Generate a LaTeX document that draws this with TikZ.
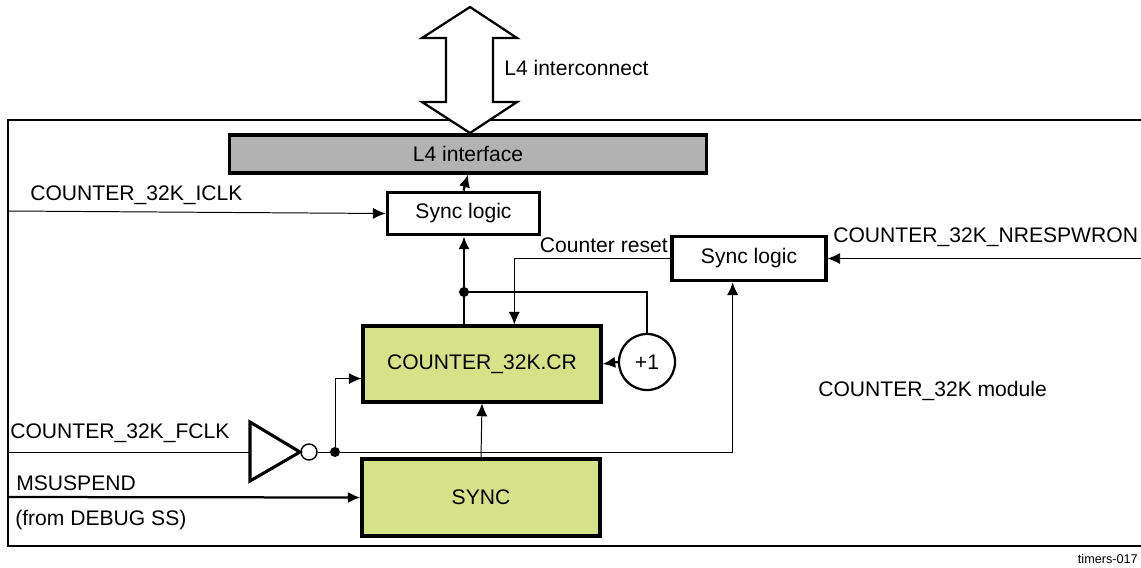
\documentclass[tikz,border=0pt]{standalone}
\usepackage{fontspec}
\setmainfont{Liberation Sans}
\usetikzlibrary{arrows.meta,positioning,calc}
\definecolor{limebox}{RGB}{213,226,135}
\definecolor{graybar}{RGB}{178,178,178}
\tikzset{
  block/.style={
    draw=black,
    line width=2.2pt,
    align=center,
    inner sep=2pt,
    font=\fontsize{15}{18}\selectfont
  },
  lbl/.style={font=\fontsize{15}{18}\selectfont, inner sep=0pt},
  dot/.style={circle, fill=black, inner sep=0pt, minimum size=0.25cm},
  thinline/.style={-{Latex[length=9pt,width=8pt]}, line width=0.7pt},
  thickline/.style={-{Latex[length=9pt,width=8pt]}, line width=1.6pt}
}

\begin{document}
\begin{tikzpicture}[x=0.025cm, y=-0.025cm]
        \clip (0,0) rectangle (1141,567);
        % module frame
        \draw[line width=1.4pt] (1160,120) -- (8,120) -- (8,546) -- (1160,546);
        % L4 interconnect
        \draw[line width=1.6pt, line join=miter, fill=white] (470,7) -- (422,38) -- (446,38) -- (446,102) -- (422,102)
          -- (470,133) -- (517,102) -- (493,102) -- (493,38) -- (517,38) -- cycle;
        \node[lbl, anchor=base west] (l4lbl) at (504,75) {L4 interconnect};
        % blocks
        \node[block, fill=graybar, minimum width=11.9cm, minimum height=0.95cm] (l4) at (468,154) {L4 interface};
        \node[block, fill=white, minimum width=3.82cm, minimum height=1.07cm] (sync1) at (463.5,213.5) {Sync logic};
        \node[block, fill=white, minimum width=3.85cm, minimum height=1.12cm] (sync2) at (749,258.5) {Sync logic};
        \node[block, fill=limebox, minimum width=5.95cm, minimum height=1.9cm] (cr) at (482,364) {COUNTER\_32K.CR};
        \node[block, fill=limebox, minimum width=5.95cm, minimum height=1.925cm] (sync) at (481,497.5) {SYNC};
        \node[circle, draw, line width=1.6pt, minimum size=1.4cm, inner sep=0pt, font=\fontsize{15}{18}\selectfont] (plus) at (647,362) {+1};
        % inverter
        \coordinate (inv) at (250,452);
        \draw[line width=2.2pt, line join=miter] (inv) ++(0,-30) -- ++(50,30) -- ++(-50,29) -- cycle;
        \node[circle, draw, line width=1pt, minimum size=0.4cm, inner sep=0pt] (bub) at (309,452) {};
        \node[dot] (dot1) at (464,292) {};
        \node[dot] (dot2) at (335,452) {};
        % signal ends
        \coordinate (iclk) at (8,211);
        \coordinate (nresp) at (1141,258.5);
        \coordinate (fclk) at (8,452);
        \coordinate (msus) at (8,497);
        % connectors
        \draw[thickline] (sync1.north) -- (l4.south);
        \draw[thinline] (iclk) -- (sync1.west);
        \draw[thickline] (dot1 |- cr.north) -- (dot1 |- sync1.south);
        \draw[line width=1.6pt] (dot1) -| (plus.north);
        \draw[thickline] (plus.west) -- (cr.east);
        \draw[thinline] (sync2.west) -| ($(cr.north west)!0.634!(cr.north east)$);
        \draw[thinline] (nresp) -- (sync2.east);
        \draw[line width=0.7pt] (fclk) -- (inv);
        \draw[line width=0.7pt] (bub.east) -- (dot2);
        \draw[thinline] (dot2) |- ($(cr.south west)!0.316!(cr.north west)$);
        \draw[thinline] (dot2) -| ($(sync2.south west)!0.396!(sync2.south east)$);
        \draw[thinline] (sync.north) -- (cr.south);
        \draw[thickline] (msus) -- (sync.west);
        % labels
        \node[lbl, anchor=base west] (iclklbl) at (30,200) {COUNTER\_32K\_ICLK};
        \node[lbl, anchor=base east] (rstlbl) at (668,252) {Counter reset};
        \node[lbl, anchor=base west] (nresplbl) at (833,242) {COUNTER\_32K\_NRESPWRON};
        \node[lbl, anchor=base west] (modlbl) at (818,396) {COUNTER\_32K module};
        \node[lbl, anchor=base west] (fclklbl) at (10,438) {COUNTER\_32K\_FCLK};
        \node[lbl, anchor=base west] (msuslbl) at (16,490) {MSUSPEND};
        \node[lbl, anchor=base west] (dbglbl) at (15,525) {(from DEBUG SS)};
        \node[lbl, anchor=base east, font=\fontsize{9}{11}\selectfont] (figlbl) at (1138,563) {timers-017};
      \end{tikzpicture}
\end{document}
